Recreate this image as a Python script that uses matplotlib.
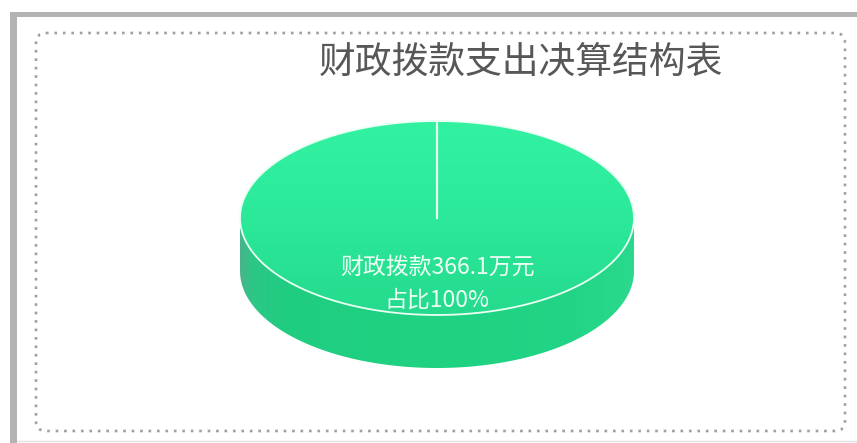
import numpy as np
import matplotlib
matplotlib.use("Agg")
import matplotlib.pyplot as plt
from matplotlib.patches import Polygon, FancyBboxPatch, Rectangle
from matplotlib.colors import to_rgb

plt.rcParams['font.family'] = ['Noto Sans CJK SC', 'DejaVu Sans']

# ---- data ----
title = "财政拨款支出决算结构表"
categories = ["财政拨款"]
values = [366.1]
unit = "万元"

W, H = 857, 443
fig = plt.figure(figsize=(W / 100, H / 100), dpi=100)
ax = fig.add_axes([0, 0, 1, 1])
ax.set_xlim(0, W)
ax.set_ylim(H, 0)
ax.axis('off')

# outer panel frame
ax.add_patch(Rectangle((10, 12), W - 10, 5, color='#b3b3b3', lw=0))
ax.add_patch(Rectangle((10, 12), 7, H - 12, color='#b3b3b3', lw=0))
ax.plot([17, W], [441, 441], color='#e2e2e2', lw=1)

# dotted rounded container
ax.add_patch(FancyBboxPatch((36, 33), 809, 398,
                            boxstyle="round,pad=0,rounding_size=10",
                            fill=False, edgecolor='#a0a0a0', lw=1.9,
                            linestyle=(0, (1, 2.2))))

ax.text(521, 62, title, fontsize=26.5, color='#575757', ha='center', va='center')

# ---- 3D pie ----
cx, cy = 437, 218
ra, rb = 197, 97
depth = 53


def ell(t, dy=0.0):
    return cx + ra * np.cos(t), cy + dy + rb * np.sin(t)


def gradient_fill(patch, colors_stops, direction, extent, zorder):
    x0, x1, y0, y1 = extent
    n = 256
    s = np.linspace(0, 1, n)
    pos = [p for p, _ in colors_stops]
    cols = np.array([to_rgb(c) for _, c in colors_stops])
    rgb = np.stack([np.interp(s, pos, cols[:, k]) for k in range(3)], axis=-1)
    if direction == 'h':
        img = np.tile(rgb[None, :, :], (8, 1, 1))
    else:
        img = np.tile(rgb[:, None, :], (1, 8, 1))
    ax.add_patch(patch)
    im = ax.imshow(img, extent=(x0, x1, y1, y0), origin='upper',
                   aspect='auto', zorder=zorder, interpolation='bilinear')
    im.set_clip_path(patch)


vals = np.array(values, dtype=float)
fracs = vals / vals.sum()
cum = np.concatenate([[0], np.cumsum(fracs)])
starts = -np.pi / 2 + 2 * np.pi * cum[:-1]
ends = -np.pi / 2 + 2 * np.pi * cum[1:]

side_stops = [(0.0, '#49b48b'), (0.03, '#2cc786'), (0.12, '#20cd81'),
              (0.5, '#1fd282'), (0.85, '#22d586'), (1.0, '#2ad98d')]
top_stops = [(0.0, '#32f2a2'), (0.5, '#2ce99a'), (1.0, '#25da8c')]

for s, e in zip(starts, ends):
    # front wall of the slice
    for k in (-1, 0, 1):
        lo = max(s, 2 * np.pi * k)
        hi = min(e, 2 * np.pi * k + np.pi)
        if hi <= lo:
            continue
        t = np.linspace(lo, hi, 200)
        xt, yt = ell(t)
        xb, yb = ell(t[::-1], depth)
        pts = np.column_stack([np.concatenate([xt, xb]), np.concatenate([yt, yb])])
        wall = Polygon(pts, closed=True, facecolor='none', edgecolor='none')
        gradient_fill(wall, side_stops, 'h',
                      (cx - ra, cx + ra, cy, cy + rb + depth), 2)

    # top face
    t = np.linspace(s, e, 400)
    xt, yt = ell(t)
    pts = np.column_stack([np.concatenate([[cx], xt]), np.concatenate([[cy], yt])])
    top = Polygon(pts, closed=True, facecolor='none', edgecolor='none')
    gradient_fill(top, top_stops, 'v', (cx - ra, cx + ra, cy - rb, cy + rb), 3)

# slice borders
tt = np.linspace(0, 2 * np.pi, 400)
ax.plot(*ell(tt), color='#eafff4', lw=1.3, zorder=4)
for s in starts:
    x1, y1 = ell(s)
    ax.plot([cx, x1], [cy, y1], color='#eafff4', lw=1.6, zorder=4)

# labels
for name, v, f in zip(categories, values, fracs):
    ax.text(cx, cy + 49, f"{name}{v:g}{unit}", fontsize=16.5, color='#eefff5',
            ha='center', va='center', zorder=5)
    ax.text(cx, cy + 82, f"占比{f * 100:.0f}%", fontsize=16.5, color='#eefff5',
            ha='center', va='center', zorder=5)

fig.savefig('out.png', dpi=100)
